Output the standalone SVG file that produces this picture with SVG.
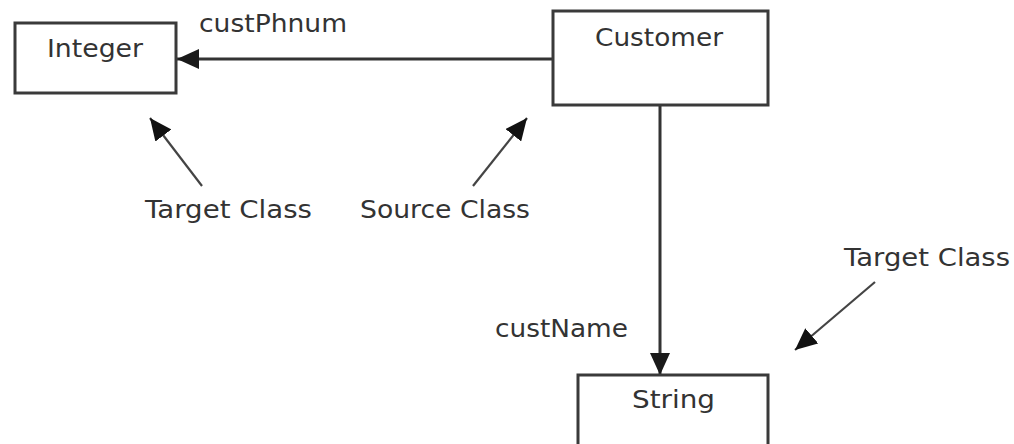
<svg xmlns="http://www.w3.org/2000/svg" width="1014" height="444" viewBox="0 0 1014 444">
  <style>
    .box { fill: #ffffff; stroke: #3a3a3a; stroke-width: 3; }
    .label { font-family: "DejaVu Sans", Verdana, sans-serif; font-size: 24px; fill: #333333; }
    .assoc { stroke: #333333; stroke-width: 3; fill: none; }
    .note { stroke: #444444; stroke-width: 2.2; fill: none; }
  </style>
  <defs>
    <marker id="head" viewBox="0 0 22 20" refX="22" refY="10" markerWidth="22" markerHeight="20" markerUnits="userSpaceOnUse" orient="auto">
      <path d="M0,0 L22,10 L0,20 Z" fill="#1a1a1a"/>
    </marker>
    <marker id="noteHead" viewBox="0 0 22 20" refX="22" refY="10" markerWidth="22" markerHeight="20" markerUnits="userSpaceOnUse" orient="auto">
      <path d="M0,0 L22,10 L0,20 Z" fill="#111111"/>
    </marker>
  </defs>
  <rect width="1014" height="444" fill="#ffffff"/>

  <g id="connectors">
    <line class="assoc" x1="553" y1="59" x2="177" y2="59" marker-end="url(#head)"/>
    <line class="assoc" x1="660" y1="105" x2="660" y2="375" marker-end="url(#head)"/>
    <line class="note" x1="202" y1="186" x2="150" y2="118" marker-end="url(#noteHead)"/>
    <line class="note" x1="473" y1="186" x2="527" y2="118" marker-end="url(#noteHead)"/>
    <line class="note" x1="875" y1="282" x2="795" y2="350" marker-end="url(#noteHead)"/>
  </g>

  <g id="integer">
    <rect class="box" x="15" y="23" width="161" height="70"/>
    <text class="label" x="47" y="57" textLength="96" lengthAdjust="spacingAndGlyphs">Integer</text>
  </g>

  <g id="customer">
    <rect class="box" x="553" y="11" width="215" height="94"/>
    <text class="label" x="595" y="46" textLength="128" lengthAdjust="spacingAndGlyphs">Customer</text>
  </g>

  <g id="string">
    <rect class="box" x="578" y="375" width="190" height="80"/>
    <text class="label" x="632" y="408" textLength="83" lengthAdjust="spacingAndGlyphs">String</text>
  </g>

  <g id="labels">
    <text class="label" x="199" y="32" textLength="148" lengthAdjust="spacingAndGlyphs">custPhnum</text>
    <text class="label" x="495" y="337" textLength="133" lengthAdjust="spacingAndGlyphs">custName</text>
    <text class="label" x="145" y="218" textLength="167" lengthAdjust="spacingAndGlyphs">Target Class</text>
    <text class="label" x="360" y="218" textLength="170" lengthAdjust="spacingAndGlyphs">Source Class</text>
    <text class="label" x="844" y="266" textLength="166" lengthAdjust="spacingAndGlyphs">Target Class</text>
  </g>
</svg>
